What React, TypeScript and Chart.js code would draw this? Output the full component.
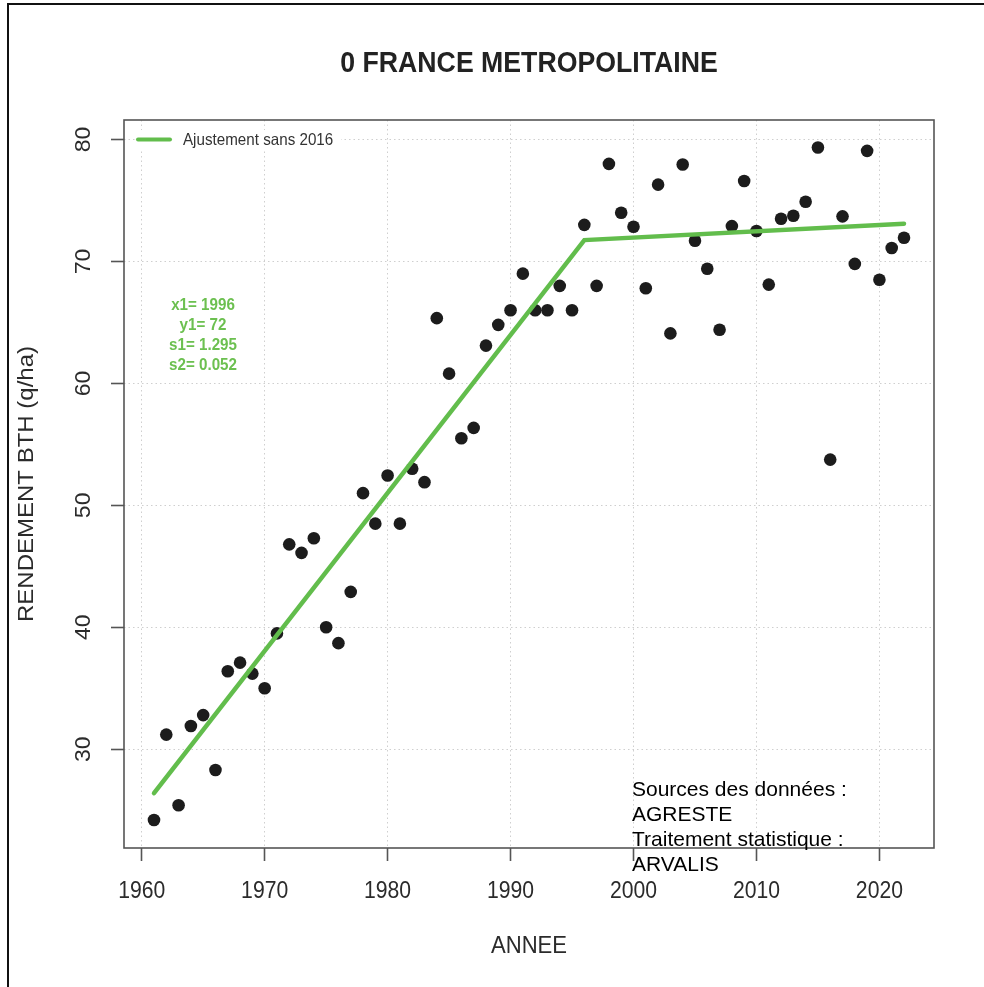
import React, { useEffect, useRef } from "react";
import { Chart, registerables } from "chart.js";

Chart.register(...registerables);

const years = [
  1961, 1962, 1963, 1964, 1965, 1966, 1967, 1968, 1969, 1970,
  1971, 1972, 1973, 1974, 1975, 1976, 1977, 1978, 1979, 1980,
  1981, 1982, 1983, 1984, 1985, 1986, 1987, 1988, 1989, 1990,
  1991, 1992, 1993, 1994, 1995, 1996, 1997, 1998, 1999, 2000,
  2001, 2002, 2003, 2004, 2005, 2006, 2007, 2008, 2009, 2010,
  2011, 2012, 2013, 2014, 2015, 2016, 2017, 2018, 2019, 2020,
  2021, 2022,
];
const yields = [
  24.2, 31.2, 25.4, 31.9, 32.8, 28.3, 36.4, 37.1, 36.2, 35.0,
  39.5, 46.8, 46.1, 47.3, 40.0, 38.7, 42.9, 51.0, 48.5, 52.45,
  48.5, 53.0, 51.9, 65.35, 60.8, 55.5, 56.35, 63.1, 64.8, 66.0,
  69.0, 66.0, 66.0, 68.0, 66.0, 73.0, 68.0, 78.0, 74.0, 72.85,
  67.8, 76.3, 64.1, 77.95, 71.7, 69.4, 64.4, 72.9, 76.6, 72.5,
  68.1, 73.5, 73.75, 74.9, 79.35, 53.75, 73.7, 69.8, 79.07, 68.5,
  71.1, 71.95,
];
const fitYears = [1961, 1996, 2022];
const fitValues = [26.4, 71.75, 73.1];
const xTicks = [1960, 1970, 1980, 1990, 2000, 2010, 2020];
const yTicks = [30, 40, 50, 60, 70, 80];
const titleText = "0 FRANCE METROPOLITAINE";
const xTitle = "ANNEE";
const yTitle = "RENDEMENT BTH (q/ha)";
const legendLabel = "Ajustement sans 2016";
const fitParams = ["x1= 1996", "y1= 72", "s1= 1.295", "s2= 0.052"];
const sourceLines = ["Sources des données :", "AGRESTE", "Traitement statistique :", "ARVALIS"];

const W = 984;
const H = 987;
const FONT = '"Liberation Sans", Arial, Helvetica, sans-serif';
const SQ = 0.92;
const GREEN = "#62bd4c";
const TXT = "#2b2b2b";

function txt(
  ctx: CanvasRenderingContext2D,
  s: string,
  x: number,
  y: number,
  font: string,
  color: string,
  align: CanvasTextAlign,
  rot = 0,
  sq = SQ
) {
  ctx.save();
  ctx.translate(x, y);
  ctx.scale(sq, 1);
  if (rot) ctx.rotate(rot);
  ctx.font = font;
  ctx.fillStyle = color;
  ctx.textAlign = align;
  ctx.textBaseline = "middle";
  ctx.fillText(s, 0, 0);
  ctx.restore();
}

const decor = {
  id: "decor",
  beforeDraw(chart: any) {
    const ctx = chart.ctx as CanvasRenderingContext2D;
    ctx.save();
    ctx.fillStyle = "#ffffff";
    ctx.fillRect(0, 0, W, H);
    ctx.restore();
  },
  afterDraw(chart: any) {
    const ctx = chart.ctx as CanvasRenderingContext2D;
    const ca = chart.chartArea;
    const xs = chart.scales.x;
    const ys = chart.scales.y;

    // outer frame
    ctx.save();
    ctx.strokeStyle = "#111";
    ctx.lineWidth = 2;
    ctx.strokeRect(8, 4, W + 100, H + 100);
    ctx.restore();

    // plot box
    ctx.save();
    ctx.strokeStyle = "#555";
    ctx.lineWidth = 1.6;
    ctx.strokeRect(ca.left, ca.top, ca.right - ca.left, ca.bottom - ca.top);
    ctx.restore();

    // title
    txt(ctx, titleText, (ca.left + ca.right) / 2, 64, `bold 29px ${FONT}`, "#222", "center");

    // tick labels
    xTicks.forEach((v) => {
      txt(ctx, String(v), xs.getPixelForValue(v), 892, `23px ${FONT}`, TXT, "center");
    });
    yTicks.forEach((v) => {
      txt(ctx, String(v), 84, ys.getPixelForValue(v), `23px ${FONT}`, TXT, "center", -Math.PI / 2);
    });

    // axis titles
    txt(ctx, xTitle, (ca.left + ca.right) / 2, 946, `24px ${FONT}`, TXT, "center");
    txt(ctx, yTitle, 27, (ca.top + ca.bottom) / 2, `24px ${FONT}`, TXT, "center", -Math.PI / 2);

    // legend
    ctx.save();
    ctx.fillStyle = "#ffffff";
    ctx.fillRect(136, 130, 205, 20);
    ctx.strokeStyle = GREEN;
    ctx.lineWidth = 4;
    ctx.lineCap = "round";
    ctx.beginPath();
    ctx.moveTo(138, 139.5);
    ctx.lineTo(170, 139.5);
    ctx.stroke();
    ctx.restore();
    txt(ctx, legendLabel, 183, 140, `16.5px ${FONT}`, "#333", "left");

    // fit parameters
    fitParams.forEach((s, i) => {
      txt(ctx, s, 203, 305.5 + i * 20, `bold 16.5px ${FONT}`, "#6cc050", "center");
    });

    // sources
    sourceLines.forEach((s, i) => {
      txt(ctx, s, 632, 790 + i * 25, `21px ${FONT}`, "#000", "left", 0, 1);
    });
  },
};

export default function App() {
  const ref = useRef<HTMLCanvasElement | null>(null);

  useEffect(() => {
    if (!ref.current) return;
    const points = years.map((x, i) => ({ x, y: yields[i] }));
    const fit = fitYears.map((x, i) => ({ x, y: fitValues[i] }));
    const gridCommon = {
      color: "#cfcfcf",
      lineWidth: 1,
      tickColor: "#555",
      tickWidth: 1.6,
      tickLength: 13,
      drawTicks: true,
    };
    const chart = new Chart(ref.current, {
      type: "scatter",
      data: {
        datasets: [
          {
            label: legendLabel,
            data: fit,
            showLine: true,
            borderColor: GREEN,
            borderWidth: 4.5,
            borderCapStyle: "round",
            pointRadius: 0,
            order: 0,
          } as any,
          {
            label: "Rendement",
            data: points,
            showLine: false,
            pointRadius: 6.3,
            pointBackgroundColor: "#1c1c1c",
            pointBorderWidth: 0,
            order: 1,
          } as any,
        ],
      },
      options: {
        animation: false,
        responsive: false,
        events: [],
        layout: { padding: { left: 0, right: 50, top: 120, bottom: 0 } },
        plugins: {
          legend: { display: false },
          title: { display: false },
          tooltip: { enabled: false },
        },
        scales: {
          x: {
            type: "linear",
            min: 1958.56,
            max: 2024.44,
            afterBuildTicks: (s: any) => {
              s.ticks = xTicks.map((v) => ({ value: v }));
            },
            afterFit: (s: any) => {
              s.height = 139;
            },
            ticks: { display: false },
            grid: gridCommon,
            border: { display: false, dash: [1.5, 3] },
          },
          y: {
            type: "linear",
            min: 21.9,
            max: 81.6,
            afterBuildTicks: (s: any) => {
              s.ticks = yTicks.map((v) => ({ value: v }));
            },
            afterFit: (s: any) => {
              s.width = 124;
            },
            ticks: { display: false },
            grid: gridCommon,
            border: { display: false, dash: [1.5, 3] },
          },
        },
      } as any,
      plugins: [decor],
    });
    return () => chart.destroy();
  }, []);

  return (
    <div style={{ position: "absolute", left: 0, top: 0, width: W, height: H, background: "#fff" }}>
      <canvas ref={ref} width={W} height={H} style={{ display: "block" }} />
    </div>
  );
}
